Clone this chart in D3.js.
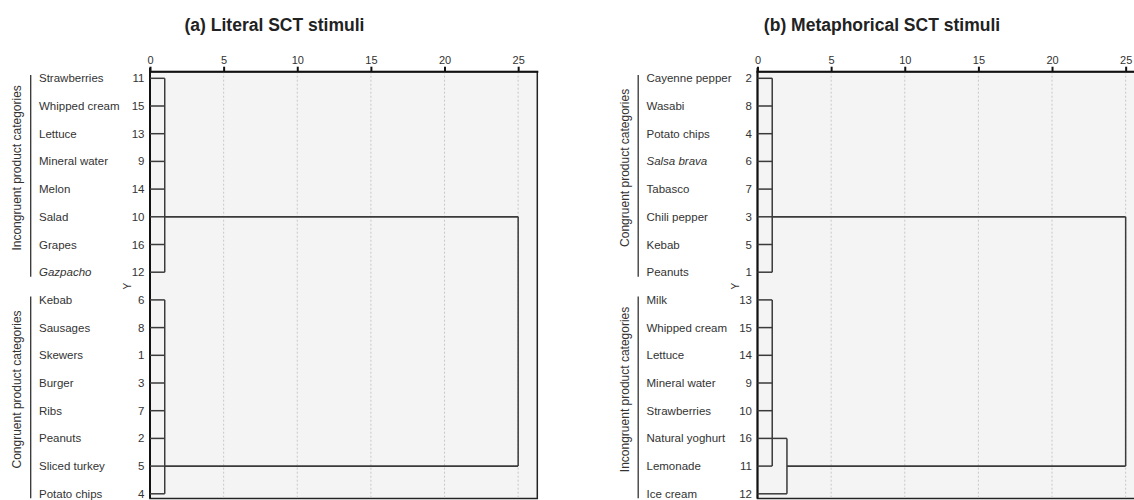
<!DOCTYPE html>
<html>
<head>
<meta charset="utf-8">
<script src="https://cdn.jsdelivr.net/npm/d3@7"></script>
<style>
  html, body { margin: 0; padding: 0; background: #fff; }
  svg { display: block; font-family: "Liberation Sans", Arial, sans-serif; }
</style>
</head>
<body>
<svg id="chart" width="1134" height="500"></svg>
<script>
// ---- Panel (a): literal SCT stimuli ----
const litNames = ["Strawberries", "Whipped cream", "Lettuce", "Mineral water", "Melon", "Salad", "Grapes", "Gazpacho",
                  "Kebab", "Sausages", "Skewers", "Burger", "Ribs", "Peanuts", "Sliced turkey", "Potato chips"];
const litIds = [11, 15, 13, 9, 14, 10, 16, 12, 6, 8, 1, 3, 7, 2, 5, 4];
const litItalic = ["Gazpacho"];
// distance at which each leaf joins its first cluster
const litLeafJoin = [1, 1, 1, 1, 1, 1, 1, 1, 1, 1, 1, 1, 1, 1, 1, 1];
// vertical joins: [distance, first row, last row]
const litJoins = [[1, 0, 7], [1, 8, 15], [25, 5, 14]];
// horizontal links: [row, from distance, to distance]
const litLinks = [[5, 1, 25], [14, 1, 25]];
const litGroups = [["Incongruent product categories", 0, 7], ["Congruent product categories", 8, 15]];

// ---- Panel (b): metaphorical SCT stimuli ----
const metNames = ["Cayenne pepper", "Wasabi", "Potato chips", "Salsa brava", "Tabasco", "Chili pepper", "Kebab", "Peanuts",
                  "Milk", "Whipped cream", "Lettuce", "Mineral water", "Strawberries", "Natural yoghurt", "Lemonade", "Ice cream"];
const metIds = [2, 8, 4, 6, 7, 3, 5, 1, 13, 15, 14, 9, 10, 16, 11, 12];
const metItalic = ["Salsa brava"];
const metLeafJoin = [1, 1, 1, 1, 1, 1, 1, 1, 1, 1, 1, 1, 1, 2, 1, 2];
const metJoins = [[1, 0, 7], [1, 8, 14], [2, 13, 15], [25, 5, 14]];
const metLinks = [[5, 1, 25], [14, 2, 25]];
const metGroups = [["Congruent product categories", 0, 7], ["Incongruent product categories", 8, 15]];

const distTicks = [0, 5, 10, 15, 20, 25];
const distMax = 26.3;

const svg = d3.select("#chart");

function drawPanel(cfg) {
  const x0 = cfg.x0;
  const top = 71.7, bottom = 498.5;
  const x = d3.scaleLinear().domain([0, distMax]).range([x0, x0 + 387.3]);
  const y = d3.scalePoint().domain(d3.range(cfg.names.length)).range([78.3, 493.8]);
  const g = svg.append("g");

  // title
  g.append("text")
    .attr("x", x0 + 124.5).attr("y", 31)
    .attr("text-anchor", "middle")
    .attr("font-size", 17.5).attr("font-weight", "bold").attr("fill", "#222")
    .text(cfg.title);

  // plot background and frame
  g.append("rect")
    .attr("x", x(0)).attr("y", top)
    .attr("width", x(distMax) - x(0)).attr("height", bottom - top)
    .attr("fill", "#f4f4f4").attr("stroke", "#222").attr("stroke-width", 1.5);

  // dotted grid
  g.selectAll(".grid").data(distTicks.filter(d => d > 0)).join("line")
    .attr("x1", d => x(d)).attr("x2", d => x(d))
    .attr("y1", top).attr("y2", bottom)
    .attr("stroke", "#c8c8c8").attr("stroke-width", 1).attr("stroke-dasharray", "2,2");

  // top distance axis
  const ax = g.append("g").attr("transform", `translate(0,${top})`)
    .call(d3.axisTop(x).tickValues(distTicks).tickSize(5).tickPadding(3));
  ax.select(".domain").remove();
  ax.selectAll(".tick line").attr("stroke", "#111").attr("stroke-width", 2);
  ax.selectAll(".tick text").attr("font-size", 11).attr("fill", "#333")
    .attr("font-family", "Liberation Sans, Arial, sans-serif");
  g.append("line").attr("x1", x(0) - 1).attr("x2", Math.min(x(distMax), 1134) + 1)
    .attr("y1", top).attr("y2", top).attr("stroke", "#111").attr("stroke-width", 2);
  g.append("line").attr("x1", x(0)).attr("x2", x(0))
    .attr("y1", top - 4).attr("y2", bottom)
    .attr("stroke", "#111").attr("stroke-width", 2);

  // leaf labels
  g.selectAll(".name").data(cfg.names).join("text")
    .attr("x", x0 - 111).attr("y", (d, i) => y(i)).attr("dy", "0.35em")
    .attr("font-size", 11.5).attr("fill", "#333")
    .attr("font-style", d => cfg.italic.includes(d) ? "italic" : "normal")
    .text(d => d);
  g.selectAll(".num").data(cfg.ids).join("text")
    .attr("x", x0 - 5.5).attr("y", (d, i) => y(i)).attr("dy", "0.35em")
    .attr("text-anchor", "end").attr("font-size", 11.5).attr("fill", "#333")
    .text(d => d);

  // group brackets and rotated labels
  cfg.groups.forEach(([label, r0, r1]) => {
    const ya = y(r0) - 3.3, yb = y(r1) + 4.5;
    g.append("line").attr("x1", x0 - 119.3).attr("x2", x0 - 119.3)
      .attr("y1", ya).attr("y2", yb).attr("stroke", "#333").attr("stroke-width", 1.3);
    const cy = (ya + yb) / 2 - 8;
    g.append("text")
      .attr("transform", `translate(${x0 - 129},${cy}) rotate(-90)`)
      .attr("text-anchor", "middle").attr("font-size", 12).attr("fill", "#333")
      .text(label);
  });

  // axis name between groups
  g.append("text")
    .attr("transform", `translate(${x0 - 19},${(y(7) + y(8)) / 2}) rotate(-90)`)
    .attr("text-anchor", "middle").attr("font-size", 10).attr("fill", "#333")
    .text("Y");

  // dendrogram
  const lineStyle = sel => sel.attr("stroke", "#3a3a3a").attr("stroke-width", 1.5).attr("fill", "none");
  g.selectAll(".leaf").data(cfg.leafJoin).join("line")
    .attr("x1", x(0)).attr("x2", d => x(d))
    .attr("y1", (d, i) => y(i)).attr("y2", (d, i) => y(i))
    .call(lineStyle);
  g.selectAll(".join").data(cfg.joins).join("line")
    .attr("x1", d => x(d[0])).attr("x2", d => x(d[0]))
    .attr("y1", d => y(d[1])).attr("y2", d => y(d[2]))
    .call(lineStyle);
  g.selectAll(".link").data(cfg.links).join("line")
    .attr("x1", d => x(d[1])).attr("x2", d => x(d[2]))
    .attr("y1", d => y(d[0])).attr("y2", d => y(d[0]))
    .call(lineStyle).attr("stroke-width", 1.8);
}

drawPanel({
  x0: 150, title: "(a) Literal SCT stimuli",
  names: litNames, ids: litIds, italic: litItalic,
  leafJoin: litLeafJoin, joins: litJoins, links: litLinks, groups: litGroups
});
drawPanel({
  x0: 757.5, title: "(b) Metaphorical SCT stimuli",
  names: metNames, ids: metIds, italic: metItalic,
  leafJoin: metLeafJoin, joins: metJoins, links: metLinks, groups: metGroups
});
</script>
</body>
</html>
